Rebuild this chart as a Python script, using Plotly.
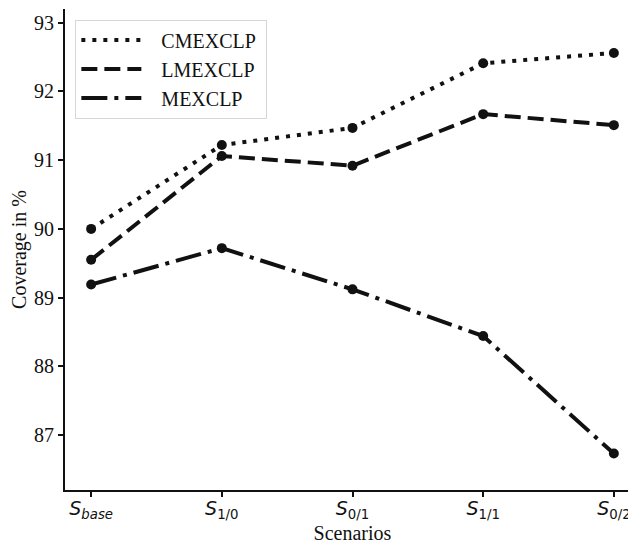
import plotly.graph_objects as go

scenarios = [0, 1, 2, 3, 4]
tick_labels = ["<i>S</i><sub><i>base</i></sub>", "<i>S</i><sub>1/0</sub>", "<i>S</i><sub>0/1</sub>",
               "<i>S</i><sub>1/1</sub>", "<i>S</i><sub>0/2</sub>"]
cmexclp = [90.00, 91.22, 91.47, 92.41, 92.56]
lmexclp = [89.55, 91.06, 90.92, 91.67, 91.51]
mexclp = [89.19, 89.72, 89.12, 88.44, 86.73]

series = [("CMEXCLP", cmexclp, "4px,7px"),
          ("LMEXCLP", lmexclp, "16px,7px"),
          ("MEXCLP", mexclp, "26px,7px,4px,7px")]

SERIF = "Liberation Serif"

fig = go.Figure()
for name, vals, dash in series:
    fig.add_trace(go.Scatter(x=scenarios, y=vals, mode="lines+markers", name=name,
                             line=dict(color="#111111", width=4, dash=dash),
                             marker=dict(color="#111111", size=10), showlegend=False))
for name, vals, dash in series:
    fig.add_trace(go.Scatter(x=[None], y=[None], mode="lines",
                             name="&nbsp;&nbsp;&nbsp;" + name + "&nbsp;",
                             line=dict(color="#111111", width=4, dash=dash)))

fig.update_layout(
    width=636, height=546,
    margin=dict(l=57, r=4, t=1, b=64, autoexpand=False),
    paper_bgcolor="white", plot_bgcolor="white",
    font=dict(family=SERIF, size=20, color="#111111"),
    legend=dict(x=0.018, y=0.978, xanchor="left", yanchor="top",
                bordercolor="#d6d6d6", borderwidth=1, bgcolor="white",
                itemwidth=60, tracegroupgap=0,
                font=dict(family=SERIF, size=20, color="#111111")),
    xaxis=dict(range=[-0.2, 4.2], tickvals=scenarios, ticktext=tick_labels, automargin=False,
               showline=True, linecolor="#111111", linewidth=1.8, showgrid=False, zeroline=False,
               ticks="outside", ticklen=5, tickwidth=1.5, tickcolor="#111111",
               ticklabelstandoff=-5,
               tickfont=dict(family="DejaVu Sans", size=19, color="#111111"),
               title=dict(text="Scenarios", standoff=0, font=dict(family=SERIF, size=20, color="#111111"))),
    yaxis=dict(range=[86.2, 93.2], tickvals=[87, 88, 89, 90, 91, 92, 93], automargin=False,
               showline=True, linecolor="#111111", linewidth=1.8, showgrid=False, zeroline=False,
               ticks="outside", ticklen=5, tickwidth=1.5, tickcolor="#111111",
               tickfont=dict(family=SERIF, size=20, color="#111111"),
               title=dict(text="Coverage in %", standoff=4, font=dict(family=SERIF, size=20, color="#111111"))),
)

fig.write_html("out.html")
